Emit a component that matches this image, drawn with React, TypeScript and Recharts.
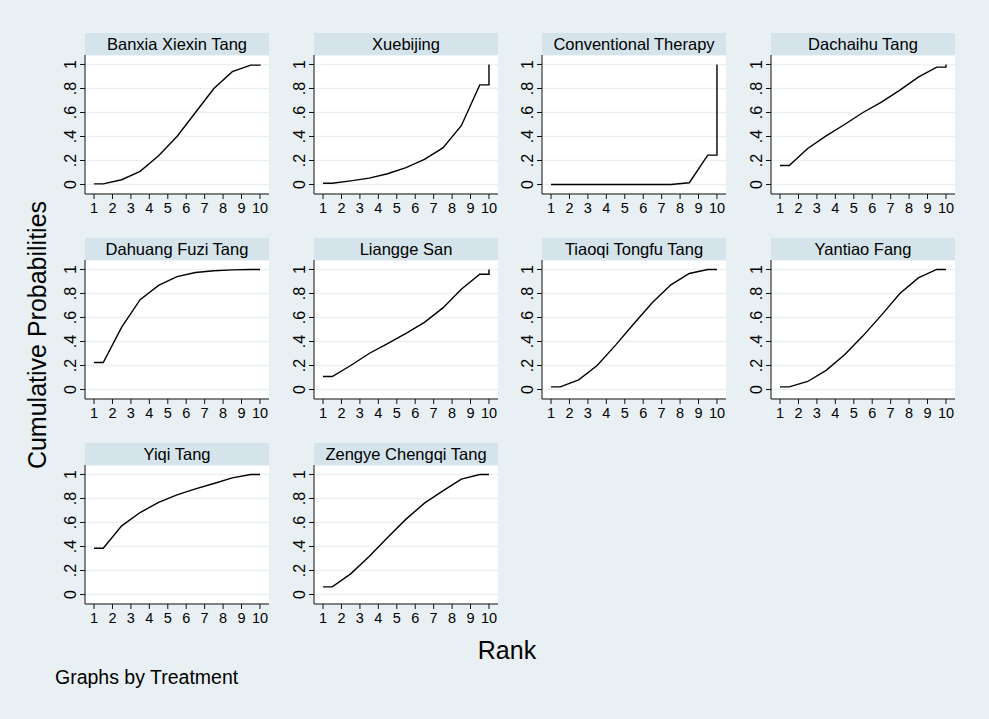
import { LineChart, Line, XAxis, YAxis, CartesianGrid } from "recharts";

// cumulative probability of being ranked 1..k
const titles = [
  "Banxia Xiexin Tang",
  "Xuebijing",
  "Conventional Therapy",
  "Dachaihu Tang",
  "Dahuang Fuzi Tang",
  "Liangge San",
  "Tiaoqi Tongfu Tang",
  "Yantiao Fang",
  "Yiqi Tang",
  "Zengye Chengqi Tang",
];
const banxia = [0.005, 0.04, 0.11, 0.24, 0.4, 0.6, 0.8, 0.94, 0.995, 1];
const xuebijing = [0.01, 0.03, 0.053, 0.09, 0.14, 0.21, 0.305, 0.49, 0.83, 1];
const conventional = [0, 0, 0, 0, 0, 0, 0, 0.015, 0.245, 1];
const dachaihu = [0.158, 0.3, 0.405, 0.5, 0.6, 0.686, 0.786, 0.894, 0.978, 1];
const dahuang = [0.225, 0.52, 0.748, 0.867, 0.94, 0.975, 0.99, 0.997, 1, 1];
const liangge = [0.108, 0.2, 0.3, 0.383, 0.467, 0.56, 0.68, 0.836, 0.96, 1];
const tiaoqi = [0.022, 0.08, 0.2, 0.37, 0.55, 0.725, 0.872, 0.967, 1, 1];
const yantiao = [0.022, 0.067, 0.16, 0.29, 0.447, 0.62, 0.8, 0.93, 1, 1];
const yiqi = [0.386, 0.572, 0.683, 0.767, 0.83, 0.88, 0.925, 0.972, 1, 1];
const zengye = [0.064, 0.172, 0.317, 0.475, 0.628, 0.761, 0.864, 0.961, 1, 1];
const series = [banxia, xuebijing, conventional, dachaihu, dahuang, liangge, tiaoqi, yantiao, yiqi, zengye];

const ranks = [1, 2, 3, 4, 5, 6, 7, 8, 9, 10];
const yTicks = [0, 0.2, 0.4, 0.6, 0.8, 1];

const BG = "#e8f0f3";
const HEAD = "#d5e3ea";
const GRID = "#eaf1f3";
const FONT = "Arial, 'Liberation Sans', Helvetica, sans-serif";

const PW = 184; // plot region
const PH = 139;
const YW = 40;
const XH = 30;
const COLS = [85, 314, 542, 771];
const ROWS = [55, 260, 465];

// stata-style curve: flat to 1.5, joined at the half ranks, then a step at 10
function toPoints(c: number[]) {
  const pts = [{ x: 1, y: c[0] }];
  c.slice(0, 9).forEach((v, i) => pts.push({ x: i + 1.5, y: v }));
  pts.push({ x: 10, y: c[8] });
  pts.push({ x: 10, y: c[9] });
  return pts;
}

const fmt = (v: number) => (v === 0 ? "0" : v === 1 ? "1" : String(Number(v.toFixed(1))).replace(/^0/, ""));

function YTick({ x, y, payload }: any) {
  return (
    <text x={x} y={y} transform={`rotate(-90 ${x} ${y})`} textAnchor="middle" fontSize={16} fill="#000" fontFamily={FONT}>
      {fmt(payload.value)}
    </text>
  );
}

function XTick({ x, y, payload }: any) {
  return (
    <text x={x} y={y} dy={12} textAnchor="middle" fontSize={14.5} fill="#000" fontFamily={FONT}>
      {payload.value}
    </text>
  );
}

function Panel({ title, cum, left, top }: { title: string; cum: number[]; left: number; top: number }) {
  return (
    <>
      <div
        style={{
          position: "absolute",
          left,
          top: top - 22,
          width: PW,
          height: 22,
          background: HEAD,
          fontFamily: FONT,
          fontSize: 16.5,
          lineHeight: "22px",
          textAlign: "center",
          color: "#000",
          whiteSpace: "nowrap",
        }}
      >
        {title}
      </div>
      <div style={{ position: "absolute", left: left - YW, top }}>
        <LineChart width={YW + PW} height={PH + XH} data={toPoints(cum)} margin={{ top: 0, right: 0, bottom: 0, left: 0 }}>
          <CartesianGrid fill="#fff" stroke={GRID} strokeWidth={1.5} vertical={false} />
          <XAxis
            dataKey="x"
            type="number"
            domain={[0.51, 10.49]}
            ticks={ranks}
            allowDataOverflow
            height={XH}
            tickSize={5}
            tickMargin={2}
            axisLine={{ stroke: "#111" }}
            tickLine={{ stroke: "#111" }}
            tick={<XTick />}
            interval={0}
          />
          <YAxis
            type="number"
            domain={[-0.079, 1.079]}
            ticks={yTicks}
            allowDataOverflow
            width={YW}
            tickSize={5}
            tickMargin={4}
            axisLine={{ stroke: "#111" }}
            tickLine={{ stroke: "#111" }}
            tick={<YTick />}
            interval={0}
          />
          <Line type="linear" dataKey="y" stroke="#000" strokeWidth={1.4} dot={false} isAnimationActive={false} />
        </LineChart>
      </div>
    </>
  );
}

export default function App() {
  return (
    <div style={{ position: "fixed", left: 0, top: 0, width: 989, height: 719, background: BG, overflow: "hidden" }}>
      {titles.map((t, i) => (
        <Panel key={t} title={t} cum={series[i]} left={COLS[i % 4]} top={ROWS[Math.floor(i / 4)]} />
      ))}
      <svg width={989} height={719} style={{ position: "absolute", left: 0, top: 0, pointerEvents: "none" }}>
        <text
          x={37}
          y={335}
          transform="rotate(-90 37 335)"
          textAnchor="middle"
          dominantBaseline="central"
          fontSize={25}
          fontFamily={FONT}
          fill="#000"
        >
          Cumulative Probabilities
        </text>
        <text x={507} y={650} textAnchor="middle" dominantBaseline="central" fontSize={25} fontFamily={FONT} fill="#000">
          Rank
        </text>
        <text x={55} y={677} dominantBaseline="central" fontSize={19.5} fontFamily={FONT} fill="#000">
          Graphs by Treatment
        </text>
      </svg>
    </div>
  );
}
